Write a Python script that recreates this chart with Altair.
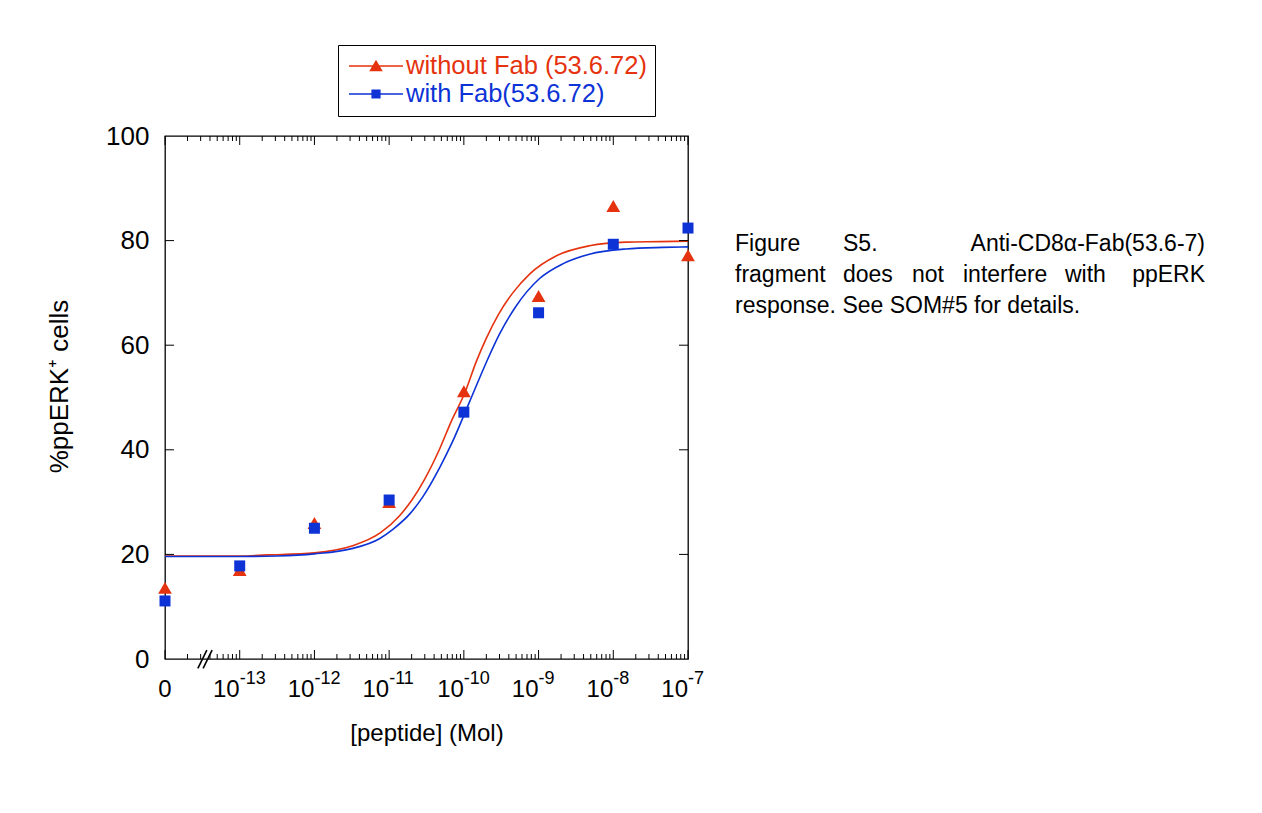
import math
import altair as alt
import pandas as pd

FONT = "Liberation Sans"
RED = "#E5330F"
BLUE = "#0D33D6"

SERIES = ["without Fab (53.6.72)", "with Fab(53.6.72)"]

# x is log10 of the peptide concentration (M); the "0" dose sits one decade below 1e-13
dose_pos = [-14, -13, -12, -11, -10, -9, -8, -7]
dose_exp = ["", "-13", "-12", "-11", "-10", "-9", "-8", "-7"]

without_fab = [13.6, 17.0, 26.0, 30.0, 51.2, 69.4, 86.6, 77.2]
with_fab = [11.1, 17.8, 25.0, 30.4, 47.2, 66.2, 79.3, 82.4]

# fitted dose-response curves
fit_without_x = [-14, -13, -12.64, -12.0, -11.5, -11.12, -10.86, -10.7, -10.52, -10.32,
                 -10.17, -9.99, -9.83, -9.7, -9.54, -9.34, -9.12, -8.76, -8.32, -7.83, -7.38, -7.0]
fit_without_y = [19.7, 19.7, 19.9, 20.3, 21.6, 24.1, 27.4, 30.3, 34.5, 40.3,
                 45.4, 50.8, 57.0, 61.3, 65.8, 70.1, 73.6, 77.1, 79.0, 79.7, 79.8, 79.9]
fit_with_x = [-14, -13, -12.5, -12.0, -11.5, -11.13, -10.95, -10.72, -10.55, -10.32,
              -10.15, -9.92, -9.7, -9.52, -9.3, -8.99, -8.67, -8.32, -7.83, -7.34, -7.0]
fit_with_y = [19.6, 19.6, 19.7, 20.1, 21.1, 23.0, 24.8, 27.8, 31.0, 36.7,
              41.6, 49.3, 56.7, 62.2, 67.5, 72.7, 75.6, 77.4, 78.4, 78.7, 78.8]

y_ticks = [0, 20, 40, 60, 80, 100]
minor_mult = [2, 3, 4, 5, 6, 7, 8, 9]

caption_line1 = ["Figure", "S5.", "Anti-CD8\u03b1-Fab(53.6-7)"]
caption_line2 = ["fragment", "does", "not", "interfere", "with", "ppERK"]
caption_line3 = "response. See SOM#5 for details."

W, H = 523, 523
XD = [-14, -7]
YD = [0, 100]
xs = alt.Scale(domain=XD, nice=False, zero=False)
ys = alt.Scale(domain=YD, nice=False, zero=False)

AX_X = alt.Axis(labels=False, ticks=False, domain=False, grid=False,
                title="[peptide] (Mol)", titleFontSize=24, titleFontWeight="normal",
                titlePadding=62)
AX_Y = alt.Axis(values=y_ticks, ticks=False, domain=False, grid=False,
                labelFontSize=26, labelPadding=16,
                title="%ppERK\u207a cells", titleFontSize=26, titleFontWeight="normal",
                titlePadding=33, titleY=250)


def X(f="pos"):
    return alt.X(f"{f}:Q", scale=xs, axis=AX_X)


def Y(f="val"):
    return alt.Y(f"{f}:Q", scale=ys, axis=AX_Y)


# ---------- data tables ----------
pts = pd.DataFrame(
    [{"series": SERIES[0], "pos": p, "val": v} for p, v in zip(dose_pos, without_fab)]
    + [{"series": SERIES[1], "pos": p, "val": v} for p, v in zip(dose_pos, with_fab)]
)
fit_a = pd.DataFrame({"pos": fit_without_x, "val": fit_without_y})
fit_b = pd.DataFrame({"pos": fit_with_x, "val": fit_with_y})

# tick segments (inward ticks on all four sides), lengths in pixels converted to data units
MAJ, MIN = 9, 5
ylen_maj, ylen_min = MAJ * 100 / H, MIN * 100 / H
xlen_maj = MAJ * 7 / W
minor_pos = [d + math.log10(m) for d in range(-14, -7) for m in minor_mult]
segs = []
for p in dose_pos:
    segs.append({"x": p, "x2": p, "y": 0, "y2": ylen_maj})
    segs.append({"x": p, "x2": p, "y": 100, "y2": 100 - ylen_maj})
for p in minor_pos:
    segs.append({"x": p, "x2": p, "y": 0, "y2": ylen_min})
    segs.append({"x": p, "x2": p, "y": 100, "y2": 100 - ylen_min})
for t in y_ticks[1:-1]:
    segs.append({"x": -14, "x2": -14 + xlen_maj, "y": t, "y2": t})
    segs.append({"x": -7, "x2": -7 - xlen_maj, "y": t, "y2": t})
ticks = pd.DataFrame(segs)

# axis break marks
brk = pd.DataFrame([
    {"x": -13.56, "x2": -13.44, "y": -1.8, "y2": 1.7},
    {"x": -13.49, "x2": -13.37, "y": -1.8, "y2": 1.7},
])

labels = pd.DataFrame({"pos": dose_pos, "exp": dose_exp,
                       "base": ["0"] + ["10"] * 7, "y": [0] * 8})

# ---------- layers ----------
tick_layer = alt.Chart(ticks).mark_rule(color="black", strokeWidth=1).encode(
    x=X("x"), x2="x2:Q", y=Y("y"), y2="y2:Q")
break_layer = alt.Chart(brk).mark_rule(color="black", strokeWidth=1.6).encode(
    x=X("x"), x2="x2:Q", y=Y("y"), y2="y2:Q")

line_a = alt.Chart(fit_a).mark_line(color=RED, strokeWidth=1.6, interpolate="monotone").encode(
    x=X(), y=Y())
line_b = alt.Chart(fit_b).mark_line(color=BLUE, strokeWidth=1.6, interpolate="monotone").encode(
    x=X(), y=Y())

# legend glyphs: a short line with the marker in its middle (all filled shapes)
TRI = "M-1,-0.025H1V0.025H-1ZM-0.25,0.19L0,-0.23L0.25,0.19Z"
SQ = "M-1,-0.025H1V0.025H-1ZM-0.17,-0.17H0.17V0.17H-0.17Z"
shape_expr = f"datum.value === '{SERIES[0]}' ? '{TRI}' : '{SQ}'"
color_expr = f"datum.value === '{SERIES[0]}' ? '{RED}' : '{BLUE}'"

legend = alt.Legend(
    title=None, orient="none", legendX=173, legendY=-91, direction="vertical",
    strokeColor="black", fillColor="white", padding=8, cornerRadius=0,
    labelFont=FONT, labelFontSize=25.5, labelColor=alt.ExprRef(expr=color_expr),
    labelOffset=3, labelLimit=0, symbolOffset=3,
    symbolType=alt.ExprRef(expr=shape_expr), symbolSize=2916, symbolStrokeWidth=0,
    symbolFillColor=alt.ExprRef(expr=color_expr),
    symbolOpacity=1, clipHeight=26, rowPadding=1,
)

# invisible layer that only carries the legend
legend_layer = alt.Chart(pts).mark_point(filled=True, opacity=0).encode(
    x=X(), y=Y(),
    color=alt.Color("series:N", scale=alt.Scale(domain=SERIES, range=[RED, BLUE]), legend=legend),
)

pts_a = alt.Chart(pts).mark_point(filled=True, opacity=1, shape="triangle-up", size=190, color=RED).encode(
    x=X(), y=Y()).transform_filter(alt.datum.series == SERIES[0])
pts_b = alt.Chart(pts).mark_point(filled=True, opacity=1, shape="square", size=121, color=BLUE).encode(
    x=X(), y=Y()).transform_filter(alt.datum.series == SERIES[1])

lab_base = alt.Chart(labels).mark_text(font=FONT, fontSize=24, align="right", baseline="alphabetic", dy=38).encode(
    x=X(), y=Y("y"), text="base:N",
).transform_filter("datum.exp != ''")
lab_zero = alt.Chart(labels).mark_text(font=FONT, fontSize=24, align="center", baseline="alphabetic", dy=38).encode(
    x=X(), y=Y("y"), text="base:N",
).transform_filter("datum.exp == ''")
lab_exp = alt.Chart(labels).mark_text(font=FONT, fontSize=18, align="left", baseline="alphabetic", dy=25).encode(
    x=X(), y=Y("y"), text="exp:N",
).transform_filter("datum.exp != ''")


# caption (justified like the original)
def cap(text, px, py, align="left"):
    return alt.Chart(pd.DataFrame({"t": [text]})).mark_text(
        font=FONT, fontSize=23, align=align, baseline="alphabetic", color="black"
    ).encode(x=alt.value(px), y=alt.value(py), text="t:N")


cap_layers = [
    cap(caption_line1[0], 570, 115),
    cap(caption_line1[1], 678, 115),
    cap(caption_line1[2], 1040, 115, "right"),
]
line2_x = [570, 678, 747, 798, 900]
for w, px in zip(caption_line2[:-1], line2_x):
    cap_layers.append(cap(w, px, 146))
cap_layers.append(cap(caption_line2[-1], 1040, 146, "right"))
cap_layers.append(cap(caption_line3, 570, 177))

chart = alt.layer(
    line_a, line_b, tick_layer, break_layer, legend_layer, pts_a, pts_b,
    lab_base, lab_zero, lab_exp, *cap_layers,
).properties(
    width=W, height=H,
    padding={"left": 157, "top": 128, "right": 560, "bottom": 140},
    autosize=alt.AutoSizeParams(type="none"),
    background="white",
).configure_view(
    stroke="black", strokeWidth=1.3,
).configure_axis(
    labelFont=FONT, titleFont=FONT, labelColor="black", titleColor="black",
)

chart.save("out.html", embed_options={"renderer": "svg", "actions": False})
